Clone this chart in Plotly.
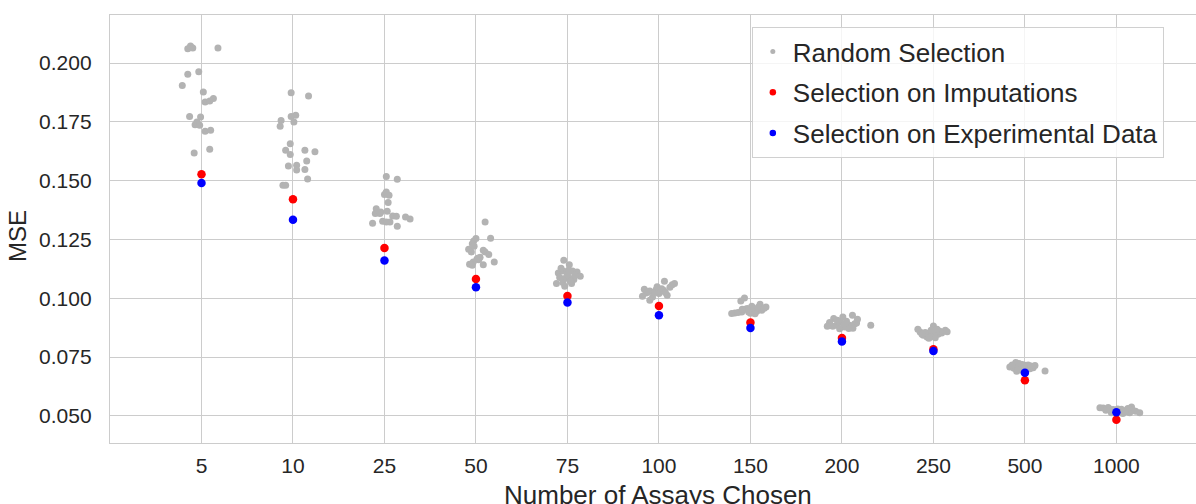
import plotly.graph_objects as go

# ---------------- data ----------------
categories = ["5", "10", "25", "50", "75", "100", "150", "200", "250", "500", "1000"]

# Random selection: MSE values per category
random_mse = {
    "5": [0.2061, 0.2072, 0.2064, 0.2064, 0.1952, 0.1963, 0.1904, 0.1877, 0.1834, 0.1839,
          0.1849, 0.1773, 0.1771, 0.1738, 0.1749, 0.1735, 0.1710, 0.1714, 0.1618, 0.1633],
    "10": [0.1874, 0.1860, 0.1773, 0.1778, 0.1756, 0.1749, 0.1731, 0.1657, 0.1629, 0.1629,
           0.1623, 0.1611, 0.1584, 0.1562, 0.1565, 0.1545, 0.1547, 0.1507, 0.1480, 0.1480],
    "25": [0.1518, 0.1506, 0.1441, 0.1452, 0.1438, 0.1407, 0.1381, 0.1367, 0.1370, 0.1360,
           0.1350, 0.1349, 0.1346, 0.1337, 0.1327, 0.1324, 0.1324, 0.1319, 0.1306, 0.1360],
    "50": [0.1324, 0.1254, 0.1244, 0.1232, 0.1255, 0.1208, 0.1197, 0.1204, 0.1197, 0.1186,
           0.1166, 0.1164, 0.1154, 0.1154, 0.1145, 0.1140, 0.1143, 0.1170, 0.1221, 0.1174],
    "75": [0.1162, 0.1143, 0.1108, 0.1116, 0.1119, 0.1116, 0.1112, 0.1094, 0.1088, 0.1084,
           0.1084, 0.1080, 0.1063, 0.1067, 0.1063, 0.1051, 0.1102, 0.1098, 0.1128, 0.1072],
    "100": [0.1072, 0.1063, 0.1038, 0.1031, 0.1037, 0.1041, 0.1020, 0.1013, 0.1009, 0.1006,
            0.0992, 0.1030, 0.1025, 0.1034, 0.1022, 0.1047, 0.1049, 0.1025, 0.1028, 0.1058],
    "150": [0.1001, 0.0989, 0.0966, 0.0975, 0.0963, 0.0938, 0.0942, 0.0942, 0.0945, 0.0949,
            0.0935, 0.0953, 0.0953, 0.0962, 0.0936, 0.0940, 0.0958, 0.0957, 0.0934, 0.0953],
    "200": [0.0914, 0.0921, 0.0928, 0.0892, 0.0897, 0.0885, 0.0878, 0.0885, 0.0895, 0.0885,
            0.0871, 0.0898, 0.0902, 0.0881, 0.0873, 0.0907, 0.0889, 0.0911, 0.0872, 0.0881],
    "250": [0.0882, 0.0857, 0.0843, 0.0836, 0.0857, 0.0853, 0.0843, 0.0836, 0.0868, 0.0851,
            0.0847, 0.0864, 0.0864, 0.0855, 0.0832, 0.0847, 0.0860, 0.0858, 0.0830, 0.0868],
    "500": [0.0727, 0.0708, 0.0711, 0.0715, 0.0711, 0.0690, 0.0694, 0.0701, 0.0691, 0.0719,
            0.0717, 0.0703, 0.0705, 0.0699, 0.0707, 0.0716, 0.0700, 0.0714, 0.0723, 0.0712],
    "1000": [0.0534, 0.0536, 0.0527, 0.0528, 0.0524, 0.0538, 0.0524, 0.0514, 0.0514, 0.0510,
             0.0514, 0.0510, 0.0524, 0.0530, 0.0532, 0.0535, 0.0520, 0.0529, 0.0517, 0.0520],
}

# Strip-plot jitter of each random point (in category widths)
random_jitter = {
    "5": [-0.15, -0.12, -0.095, 0.18, -0.15, -0.03, -0.21, 0.02, 0.04, 0.09,
          0.13, -0.13, -0.01, -0.07, -0.05, -0.02, 0.04, 0.10, -0.08, 0.09],
    "10": [-0.02, 0.17, -0.02, 0.03, -0.13, 0.01, -0.14, -0.03, -0.08, 0.13,
           0.24, -0.03, 0.15, -0.05, 0.04, 0.04, 0.13, 0.16, -0.11, -0.08],
    "25": [0.02, 0.14, 0.0, 0.02, 0.05, 0.04, -0.09, -0.04, 0.03, -0.10,
           0.09, 0.13, 0.23, 0.28, -0.02, 0.02, 0.06, -0.13, 0.14, -0.05],
    "50": [0.10, 0.0, -0.025, -0.04, 0.16, -0.08, -0.05, 0.08, 0.10, 0.14,
           0.01, 0.03, -0.03, 0.20, -0.07, -0.04, 0.08, 0.02, -0.02, 0.045],
    "75": [-0.04, 0.02, -0.10, -0.05, 0.01, 0.055, 0.105, 0.14, -0.085, -0.03,
           0.025, 0.07, -0.12, -0.05, 0.045, -0.03, 0.0, 0.08, -0.07, 0.03],
    "100": [0.06, 0.17, -0.16, -0.10, -0.03, 0.03, 0.0, 0.09, -0.18, -0.07,
            -0.10, 0.01, -0.05, 0.05, -0.14, 0.12, -0.02, 0.07, -0.12, 0.145],
    "150": [-0.065, -0.105, 0.015, 0.105, 0.17, -0.17, -0.095, -0.02, 0.07, 0.125,
            -0.205, -0.06, 0.03, 0.085, 0.0, -0.135, 0.15, -0.035, 0.05, -0.09],
    "200": [-0.09, 0.01, 0.115, 0.14, -0.135, -0.06, 0.03, 0.085, 0.16, 0.315,
            -0.025, -0.015, 0.05, -0.10, 0.12, -0.05, 0.02, 0.17, 0.075, -0.16],
    "250": [0.0, -0.145, -0.11, -0.07, 0.04, 0.09, 0.0, -0.035, -0.17, -0.06,
            0.05, 0.13, -0.025, -0.09, 0.02, -0.125, 0.07, 0.15, -0.05, 0.04],
    "500": [-0.10, -0.165, -0.055, 0.0, 0.075, -0.09, -0.035, 0.055, 0.22, -0.03,
            0.035, -0.12, 0.09, -0.075, 0.02, -0.14, -0.01, 0.11, -0.065, 0.06],
    "1000": [-0.145, -0.09, -0.035, 0.055, 0.11, 0.165, 0.18, 0.255, -0.055, 0.0,
             0.145, 0.07, -0.115, 0.015, 0.125, -0.18, 0.21, -0.075, 0.09, 0.025],
}

imputation_mse = [0.1527, 0.1421, 0.1214, 0.1082, 0.1010, 0.0967, 0.0897, 0.0831, 0.0783, 0.0652, 0.0484]
experimental_mse = [0.1490, 0.1334, 0.1161, 0.1047, 0.0982, 0.0928, 0.0874, 0.0816, 0.0776, 0.0684, 0.0516]

series_names = ["Random Selection", "Selection on Imputations", "Selection on Experimental Data"]
y_ticks = [0.050, 0.075, 0.100, 0.125, 0.150, 0.175, 0.200]
x_title = "Number of Assays Chosen"
y_title = "MSE"

# ---------------- style ----------------
GRAY = "#b3b3b3"
RED = "#ff0000"
BLUE = "#0000ff"
TEXT = "#262626"
GRID = "#cccccc"
FONT = "Liberation Sans, Arial, sans-serif"

rx, ry = [], []
for i, c in enumerate(categories):
    for j, v in zip(random_jitter[c], random_mse[c]):
        rx.append(i + j)
        ry.append(v)

idx = list(range(len(categories)))

fig = go.Figure()
fig.add_trace(go.Scatter(x=rx, y=ry, mode="markers", name=series_names[0],
                         marker=dict(color=GRAY, size=7, line=dict(width=0)),
                         showlegend=False))
fig.add_trace(go.Scatter(x=idx, y=imputation_mse, mode="markers", name=series_names[1],
                         marker=dict(color=RED, size=8.5, line=dict(width=0)),
                         showlegend=False))
fig.add_trace(go.Scatter(x=idx, y=experimental_mse, mode="markers", name=series_names[2],
                         marker=dict(color=BLUE, size=8.5, line=dict(width=0)),
                         showlegend=False))

# legend entries (smaller markers, like the matplotlib legend)
for name, col, sz in zip(series_names, [GRAY, RED, BLUE], [5, 6.5, 6.5]):
    fig.add_trace(go.Scatter(x=[None], y=[None], mode="markers", name=name,
                             legendgroup=name,
                             marker=dict(color=col, size=sz, line=dict(width=0))))

fig.update_layout(
    width=1196, height=504,
    margin=dict(l=110, r=0, t=15, b=61, autoexpand=False),
    paper_bgcolor="white", plot_bgcolor="white",
    font=dict(family=FONT, color=TEXT, size=21),
    showlegend=True,
    legend=dict(x=0.591, y=0.972, xanchor="left", yanchor="top",
                bgcolor="rgba(255,255,255,0.8)", bordercolor="#d0d0d0", borderwidth=1,
                font=dict(size=26, color=TEXT, family=FONT),
                tracegroupgap=4, itemsizing="trace",
                entrywidth=395, entrywidthmode="pixels"),
    xaxis=dict(range=[-1.0, 10.87], tickmode="array", tickvals=idx, ticktext=categories,
               showgrid=True, gridcolor=GRID, gridwidth=1.2, zeroline=False,
               showline=True, linecolor=GRID, linewidth=1.3, mirror=True,
               ticks="", ticklabelstandoff=4,
               tickfont=dict(size=21, color=TEXT)),
    yaxis=dict(range=[0.0385, 0.2204], tickmode="array", tickvals=y_ticks,
               tickformat=".3f",
               showgrid=True, gridcolor=GRID, gridwidth=1.2, zeroline=False,
               showline=True, linecolor=GRID, linewidth=1.3, mirror=True,
               ticks="", ticklabelstandoff=13,
               tickfont=dict(size=21, color=TEXT)),
    annotations=[
        dict(text=x_title, xref="paper", yref="paper", x=0.5046, y=-0.122,
             xanchor="center", yanchor="middle", showarrow=False,
             font=dict(size=26, color=TEXT, family=FONT)),
        dict(text=y_title, xref="paper", yref="paper", x=-0.085, y=0.483,
             xanchor="center", yanchor="middle", showarrow=False, textangle=-90,
             font=dict(size=24, color=TEXT, family=FONT)),
    ],
)

fig.write_html("out.html", config={"displayModeBar": False},
               post_script="document.body.style.margin='0';document.body.style.overflow='hidden';")
